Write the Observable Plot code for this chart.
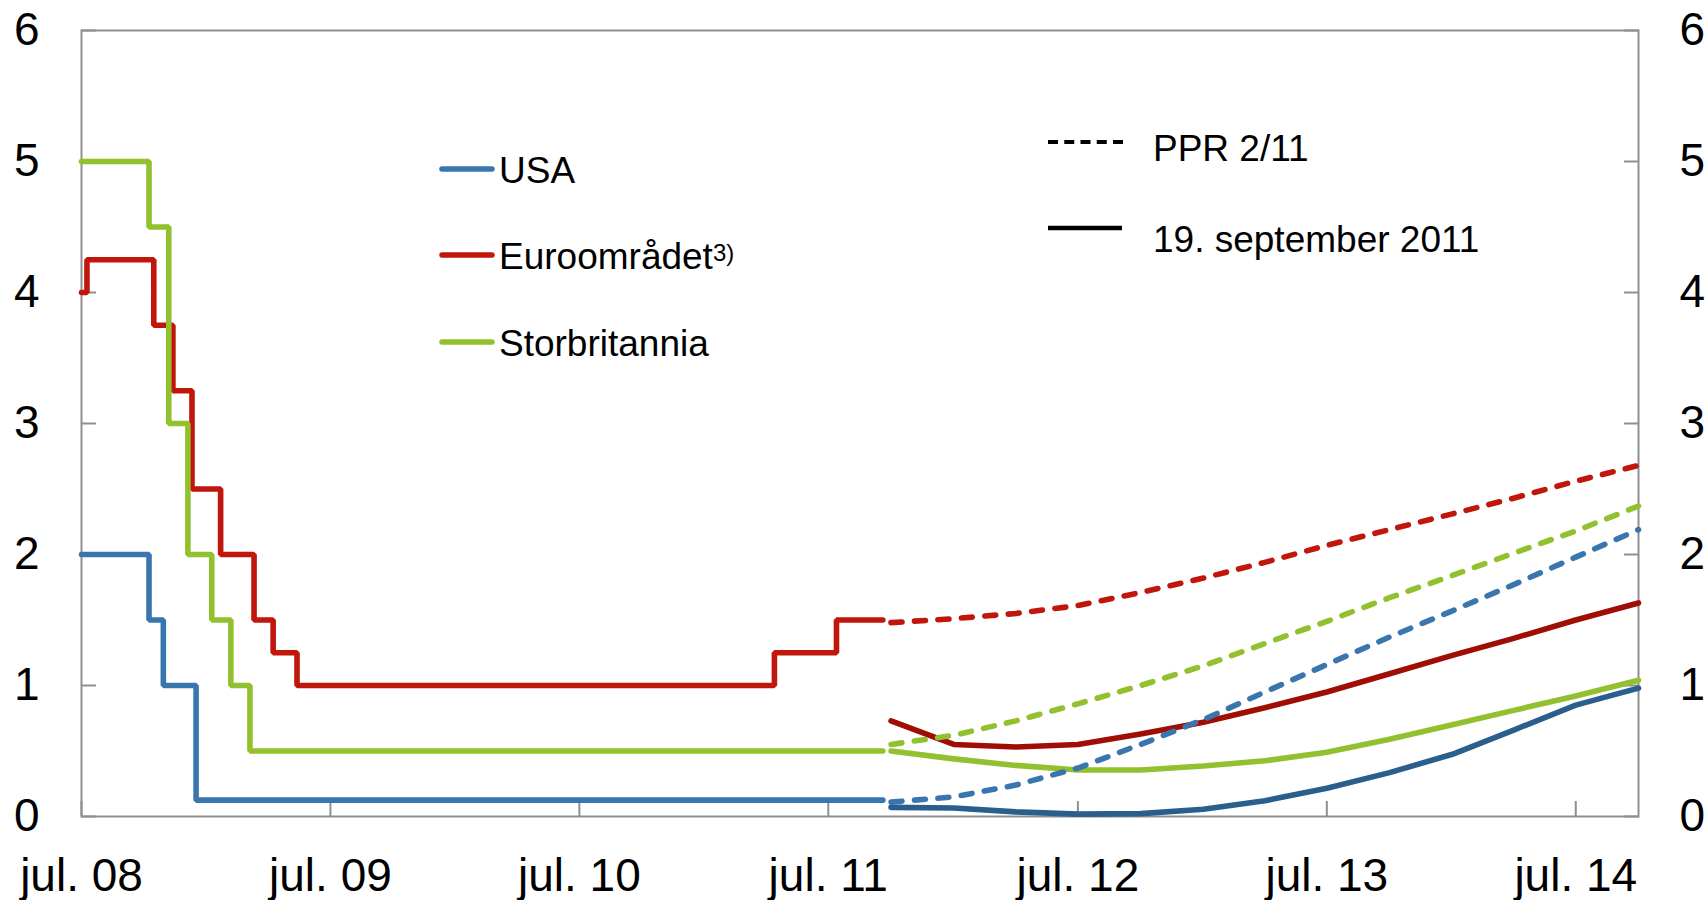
<!DOCTYPE html>
<html>
<head>
<meta charset="utf-8">
<script src="https://cdn.jsdelivr.net/npm/d3@7"></script>
<script src="https://cdn.jsdelivr.net/npm/@observablehq/plot@0.6"></script>
<style>
  body { margin: 0; background: #fff; }
  #wrap { position: relative; width: 1708px; height: 900px; font-family: "Liberation Sans", Arial, sans-serif; }
  #legend { position: absolute; left: 0; top: 0; pointer-events: none; }
</style>
</head>
<body>
<div id="wrap"></div>
<script>
// ---- Data ----
const seriesNames = ["USA", "Euroområdet", "Storbritannia"];

// Historical policy rates (step changes)
const usaHistDates   = ["2008-07-01","2008-10-08","2008-10-29","2008-12-16","2011-09-19"];
const usaHistValues  = [2.0, 1.5, 1.0, 0.125, 0.125];
const euroHistDates  = ["2008-07-01","2008-07-09","2008-10-15","2008-11-12","2008-12-10","2009-01-21","2009-03-11","2009-04-08","2009-05-13","2011-04-13","2011-07-13","2011-09-19"];
const euroHistValues = [4.0, 4.25, 3.75, 3.25, 2.5, 2.0, 1.5, 1.25, 1.0, 1.25, 1.5, 1.5];
const ukHistDates    = ["2008-07-01","2008-10-08","2008-11-06","2008-12-04","2009-01-08","2009-02-05","2009-03-05","2011-09-19"];
const ukHistValues   = [5.0, 4.5, 3.0, 2.0, 1.5, 1.0, 0.5, 0.5];

// Forward rates (quarterly)
const fwdDates = ["2011-10-01","2012-01-01","2012-04-01","2012-07-01","2012-10-01","2013-01-01","2013-04-01","2013-07-01","2013-10-01","2014-01-01","2014-04-01","2014-07-01","2014-10-01"];
const usaPPR  = [0.11, 0.15, 0.24, 0.37, 0.55, 0.74, 0.95, 1.16, 1.37, 1.57, 1.77, 1.98, 2.19];
const euroPPR = [1.48, 1.51, 1.55, 1.61, 1.71, 1.82, 1.94, 2.07, 2.19, 2.31, 2.43, 2.56, 2.68];
const ukPPR   = [0.55, 0.62, 0.73, 0.86, 1.00, 1.15, 1.32, 1.49, 1.67, 1.84, 2.01, 2.18, 2.37];
const usaSep  = [0.07, 0.065, 0.035, 0.018, 0.022, 0.055, 0.12, 0.215, 0.335, 0.475, 0.66, 0.85, 0.98];
const euroSep = [0.73, 0.55, 0.53, 0.55, 0.63, 0.72, 0.83, 0.95, 1.09, 1.23, 1.36, 1.50, 1.63];
const ukSep   = [0.50, 0.44, 0.39, 0.355, 0.355, 0.385, 0.425, 0.49, 0.59, 0.70, 0.81, 0.92, 1.04];

// Axis ticks
const yTicks = [0, 1, 2, 3, 4, 5, 6];
const yTickLabels = ["0", "1", "2", "3", "4", "5", "6"];
const xTickDates  = ["2008-07-01","2009-07-01","2010-07-01","2011-07-01","2012-07-01","2013-07-01","2014-07-01"];
const xTickLabels = ["jul. 08","jul. 09","jul. 10","jul. 11","jul. 12","jul. 13","jul. 14"];

const legendLabels = ["PPR 2/11", "19. september 2011"];

// ---- Styles ----
const colHist = {USA: "#3a76ae", "Euroområdet": "#c0160b", Storbritannia: "#93c02f"};
const colSep  = {USA: "#2a5e8c", "Euroområdet": "#a00d04", Storbritannia: "#93c02f"};
const axisGray = "#8f8f8f";

// ---- Tables ----
const toRows = (name, dates, vals) => dates.map((d, i) => ({series: name, date: new Date(d), value: vals[i]}));
const hist = [
  ...toRows("USA", usaHistDates, usaHistValues),
  ...toRows("Euroområdet", euroHistDates, euroHistValues),
  ...toRows("Storbritannia", ukHistDates, ukHistValues)
];
const ppr = [
  ...toRows("USA", fwdDates, usaPPR),
  ...toRows("Euroområdet", fwdDates, euroPPR),
  ...toRows("Storbritannia", fwdDates, ukPPR)
];
const sep = [
  ...toRows("USA", fwdDates, usaSep),
  ...toRows("Euroområdet", fwdDates, euroSep),
  ...toRows("Storbritannia", fwdDates, ukSep)
];
const xTicks = xTickDates.map(d => new Date(d));
const xFmt = d => xTickLabels[xTicks.findIndex(t => +t === +d)];
const yFmt = d => yTickLabels[yTicks.indexOf(d)];

const lw = 5.6;
const marks = [
  Plot.frame({stroke: axisGray, strokeWidth: 2}),
  Plot.axisY(yTicks, {anchor: "left", tickSize: -15, tickPadding: 57, stroke: axisGray, strokeWidth: 2, label: null, fontSize: 46, tickFormat: yFmt}),
  Plot.axisY(yTicks, {anchor: "right", tickSize: -15, tickPadding: 56, stroke: axisGray, strokeWidth: 2, label: null, fontSize: 46, tickFormat: yFmt}),
  Plot.axisX(xTicks, {anchor: "bottom", tickSize: -15, tickPadding: 57, stroke: axisGray, strokeWidth: 2, label: null, fontSize: 46, tickFormat: xFmt})
];
for (const s of seriesNames) {
  marks.push(Plot.line(hist.filter(d => d.series === s), {x: "date", y: "value", curve: "step-after", stroke: colHist[s], strokeWidth: lw, strokeLinejoin: "miter"}));
}
for (const s of seriesNames) {
  marks.push(Plot.line(sep.filter(d => d.series === s), {x: "date", y: "value", stroke: colSep[s], strokeWidth: lw}));
}
for (const s of seriesNames) {
  marks.push(Plot.line(ppr.filter(d => d.series === s), {x: "date", y: "value", stroke: colHist[s], strokeWidth: lw, strokeDasharray: "11,12.5", strokeLinecap: "round"}));
}

const chart = Plot.plot({
  width: 1708,
  height: 900,
  marginLeft: 81,
  marginRight: 70,
  marginTop: 30,
  marginBottom: 84,
  style: {fontFamily: "'Liberation Sans', Arial, sans-serif", fontSize: "46px", color: "#000", background: "#fff", overflow: "visible"},
  x: {type: "utc", domain: [new Date("2008-07-01"), new Date("2014-10-01")]},
  y: {domain: [0, 6]},
  marks
});
const wrap = document.getElementById("wrap");
wrap.appendChild(chart);

// ---- Legend overlay ----
const ns = "http://www.w3.org/2000/svg";
const leg = document.createElementNS(ns, "svg");
leg.setAttribute("id", "legend");
leg.setAttribute("width", 1708);
leg.setAttribute("height", 900);
leg.setAttribute("font-family", "'Liberation Sans', Arial, sans-serif");
function el(tag, attrs, text) {
  const e = document.createElementNS(ns, tag);
  for (const k in attrs) e.setAttribute(k, attrs[k]);
  if (text != null) e.textContent = text;
  leg.appendChild(e);
  return e;
}
const legRowsY = [169, 255, 342];
seriesNames.forEach((s, i) => {
  el("line", {x1: 442, x2: 492, y1: legRowsY[i], y2: legRowsY[i], stroke: colHist[s], "stroke-width": 5.5, "stroke-linecap": "round"});
  const t = el("text", {x: 499, y: legRowsY[i] + 13.5, "font-size": 37, fill: "#000"}, s);
  if (s === "Euroområdet") {
    const sup = document.createElementNS(ns, "tspan");
    sup.setAttribute("font-size", 24);
    sup.setAttribute("dy", -8);
    sup.textContent = "3)";
    t.appendChild(sup);
  }
});
el("line", {x1: 1048, x2: 1123, y1: 142, y2: 142, stroke: "#000", "stroke-width": 4, "stroke-dasharray": "10,6.25"});
el("text", {x: 1153, y: 161, "font-size": 37, fill: "#000"}, legendLabels[0]);
el("line", {x1: 1048, x2: 1122, y1: 228, y2: 228, stroke: "#000", "stroke-width": 4.5});
el("text", {x: 1153, y: 252, "font-size": 37, fill: "#000"}, legendLabels[1]);
wrap.appendChild(leg);
</script>
</body>
</html>
